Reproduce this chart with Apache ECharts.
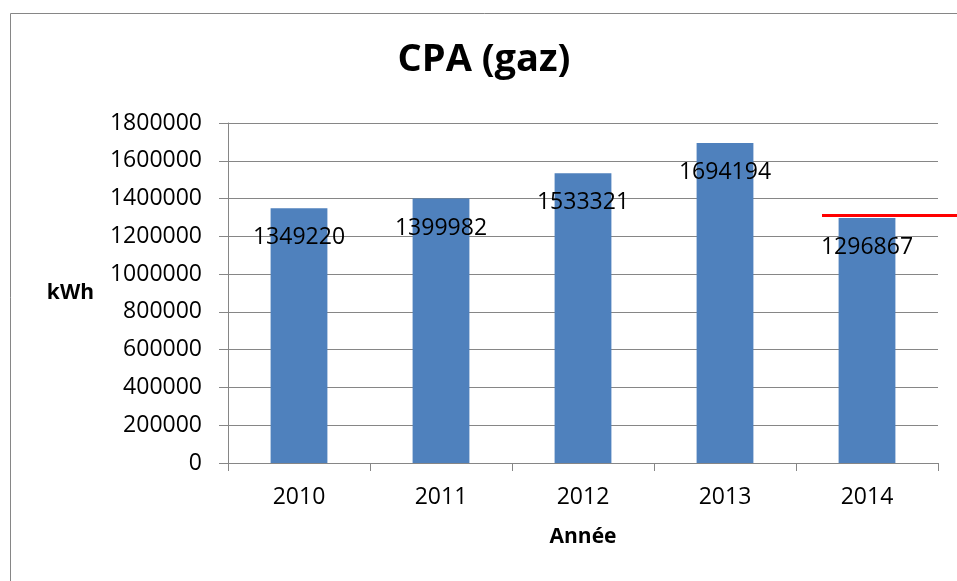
<!DOCTYPE html>
<html>
<head>
<meta charset="utf-8">
<title>CPA (gaz)</title>
<script src="https://cdn.jsdelivr.net/npm/echarts@6/dist/echarts.min.js"></script>
<style>
    html, body { margin: 0; padding: 0; background: #fff; }
    #chart { width: 957px; height: 581px; }
</style>
</head>
<body>
<div id="chart"></div>
<script>
// 数据
const years = ['2010', '2011', '2012', '2013', '2014'];
const consumption = [1349220, 1399982, 1533321, 1694194, 1296867];
const yTicks = [0, 200000, 400000, 600000, 800000, 1000000, 1200000, 1400000, 1600000, 1800000];
const targetLevel = 1313000;  // 红色参考线

const FONT = '"Open Sans", "DejaVu Sans", sans-serif';
const GRAY = '#868686';

const chart = echarts.init(document.getElementById('chart'));

const option = {
    backgroundColor: '#fff',
    animation: false,
    title: {
        text: 'CPA (gaz)',
        left: 479,
        top: 36,
        textAlign: 'center',
        textStyle: {
            fontFamily: FONT,
            fontWeight: 'bold',
            fontSize: 38,
            color: '#000'
        }
    },
    graphic: [{
        // 外框（仅左、上可见）
        type: 'rect',
        left: 8,
        top: 11,
        shape: { width: 1200, height: 1200 },
        style: { fill: 'none', stroke: GRAY, lineWidth: 1 },
        silent: true
    }],
    grid: {
        left: 228,
        right: 19,
        top: 123,
        bottom: 118
    },
    xAxis: {
        type: 'category',
        data: years,
        name: 'Année',
        nameLocation: 'middle',
        nameGap: 64,
        nameTextStyle: {
            fontFamily: FONT,
            fontWeight: 'bold',
            fontSize: 21,
            color: '#000'
        },
        axisLine: { lineStyle: { color: GRAY, width: 1 } },
        axisTick: { show: true, length: 8, lineStyle: { color: GRAY } },
        axisLabel: {
            margin: 23,
            fontFamily: FONT,
            fontSize: 23,
            color: '#000'
        }
    },
    yAxis: {
        type: 'value',
        min: yTicks[0],
        max: yTicks[yTicks.length - 1],
        interval: yTicks[1] - yTicks[0],
        name: 'kWh',
        nameLocation: 'middle',
        nameRotate: 0,
        nameGap: 134,
        nameTextStyle: {
            fontFamily: FONT,
            fontWeight: 'bold',
            fontSize: 21,
            color: '#000'
        },
        axisLine: { show: true, lineStyle: { color: GRAY, width: 1 } },
        axisTick: { show: true, length: 9, lineStyle: { color: GRAY } },
        axisLabel: {
            margin: 26,
            fontFamily: FONT,
            fontSize: 23,
            color: '#000',
            formatter: (v) => String(v)
        },
        splitLine: { lineStyle: { color: GRAY, width: 1 } }
    },
    series: [{
        type: 'bar',
        data: consumption,
        barWidth: '40%',
        clip: false,
        itemStyle: { color: '#4F81BD' },
        label: {
            show: true,
            position: 'insideTop',
            distance: 18,
            fontFamily: FONT,
            fontSize: 23,
            color: '#000'
        },
        markLine: {
            silent: true,
            symbol: 'none',
            label: { show: false },
            lineStyle: { color: '#FF0000', width: 3, type: 'solid' },
            data: [[
                { x: 822, yAxis: targetLevel },
                { x: 957, yAxis: targetLevel }
            ]]
        }
    }]
};

chart.setOption(option);
</script>
</body>
</html>
